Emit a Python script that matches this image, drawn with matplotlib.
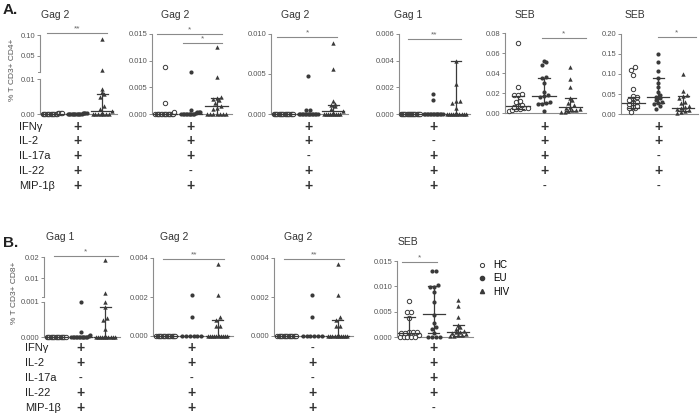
import numpy as np
import matplotlib.pyplot as plt
from matplotlib.lines import Line2D
from matplotlib.transforms import blended_transform_factory

plt.rcParams['font.family'] = ['Liberation Sans', 'DejaVu Sans']

W, H = 700, 417
DARK = '#3a3a3a'
AXC = '#8c8c8c'
TXT = '#555555'

# ---------------- data, panel A (% T CD3+ CD4+) ----------------
a1_hc = [0.0004, 0.0004, 0.0003, 0.0002, 0, 0, 0, 0, 0, 0, 0, 0, 0, 0, 0, 0]
a1_eu = [0.0004, 0.0003, 0.0003, 0.0002, 0.0001, 0, 0, 0, 0, 0, 0, 0, 0, 0, 0, 0]
a1_hiv = [0.09, 0.015, 0.0072, 0.0062, 0.0058, 0.005, 0.0022, 0.0015, 0.0008,
          0, 0, 0, 0, 0, 0, 0]
a1_stats = [(0, 0, 0), (0, 0, 0), (0.0008, 0, 0.0058)]

a2_hc = [0.0088, 0.0021, 0.0004, 0, 0, 0, 0, 0, 0, 0, 0, 0, 0, 0, 0, 0, 0]
a2_eu = [0.0079, 0.0007, 0.0004, 0.0004, 0.0003, 0.0002, 0, 0, 0, 0, 0, 0, 0, 0, 0, 0]
a2_hiv = [0.0125, 0.0069, 0.0031, 0.003, 0.0028, 0.0026, 0.002, 0.0015, 0.0012,
          0.001, 0, 0, 0, 0, 0, 0, 0]
a2_stats = [(0, 0, 0), (0, 0, 0), (0.0015, 0, 0.003)]

a3_hc = [0, 0, 0, 0, 0, 0, 0, 0, 0, 0, 0, 0, 0, 0, 0, 0, 0]
a3_eu = [0.0048, 0.0005, 0.0005, 0, 0, 0, 0, 0, 0, 0, 0, 0, 0, 0, 0, 0, 0]
a3_hiv = [0.0089, 0.0056, 0.0016, 0.0012, 0.0011, 0.001, 0.0006, 0.0004,
          0, 0, 0, 0, 0, 0, 0, 0, 0]
a3_stats = [(0, 0, 0), (0, 0, 0), (0.0004, 0, 0.0011)]

a4_hc = [0, 0, 0, 0, 0, 0, 0, 0, 0, 0, 0, 0, 0, 0, 0, 0, 0, 0]
a4_eu = [0.0015, 0.00105, 0, 0, 0, 0, 0, 0, 0, 0, 0, 0, 0, 0, 0, 0]
a4_hiv = [0.004, 0.00225, 0.001, 0.00095, 0.0008, 0.00045,
          0, 0, 0, 0, 0, 0, 0, 0, 0, 0]
a4_stats = [(0, 0, 0), (0, 0, 0), (0, 0, 0.004)]

a5_hc = [0.070, 0.026, 0.019, 0.018, 0.018, 0.012, 0.011, 0.008, 0.007, 0.006,
         0.005, 0.005, 0.004, 0.004, 0.003, 0.002]
a5_eu = [0.052, 0.051, 0.048, 0.036, 0.035, 0.030, 0.021, 0.018, 0.017, 0.016,
         0.011, 0.010, 0.009, 0.009, 0.002]
a5_hiv = [0.046, 0.034, 0.026, 0.015, 0.013, 0.010, 0.008, 0.006, 0.005, 0.004,
          0.003, 0.003, 0.002, 0.001, 0.001]
a5_stats = [(0.007, 0.004, 0.017), (0.017, 0.010, 0.035), (0.006, 0.002, 0.015)]

a6_hc = [0.117, 0.110, 0.098, 0.063, 0.045, 0.042, 0.040, 0.035, 0.030, 0.027,
         0.025, 0.020, 0.018, 0.015, 0.014, 0.006]
a6_eu = [0.150, 0.130, 0.108, 0.090, 0.078, 0.068, 0.056, 0.048, 0.043, 0.040,
         0.034, 0.030, 0.028, 0.025, 0.020, 0.012]
a6_hiv = [0.101, 0.058, 0.048, 0.046, 0.040, 0.030, 0.027, 0.020, 0.017, 0.015,
          0.012, 0.010, 0.008, 0.005, 0.002]
a6_stats = [(0.027, 0.015, 0.043), (0.043, 0.027, 0.090), (0.016, 0.008, 0.046)]

# ---------------- data, panel B (% T CD3+ CD8+) ----------------
b1_hc = [0, 0, 0, 0, 0, 0, 0, 0, 0, 0, 0, 0, 0, 0, 0, 0]
b1_eu = [0.001, 0.00014, 0.00005, 0.00004, 0, 0, 0, 0, 0, 0, 0, 0, 0, 0, 0, 0]
b1_hiv = [0.0186, 0.003, 0.001, 0.00085, 0.00055, 0.0005, 0.00022,
          0, 0, 0, 0, 0, 0, 0, 0, 0, 0]
b1_stats = [(0, 0, 0), (0, 0, 0), (0, 0, 0.00085)]

b2_hc = [0, 0, 0, 0, 0, 0, 0, 0, 0, 0, 0, 0, 0, 0, 0, 0]
b2_eu = [0.0021, 0.00098, 0, 0, 0, 0, 0, 0]
b2_hiv = [0.0037, 0.0021, 0.00098, 0.00082, 0.0005, 0.0005,
          0, 0, 0, 0, 0, 0, 0, 0, 0, 0]
b2_stats = [(0, 0, 0), (0, 0, 0), (0, 0, 0.00082)]

b3_hc = [0, 0, 0, 0, 0, 0, 0, 0, 0, 0, 0, 0, 0, 0, 0, 0]
b3_eu = [0.0021, 0.00098, 0, 0, 0, 0, 0, 0]
b3_hiv = [0.0037, 0.0021, 0.00098, 0.00082, 0.0005, 0.0005,
          0, 0, 0, 0, 0, 0, 0, 0, 0, 0]
b3_stats = [(0, 0, 0), (0, 0, 0), (0, 0, 0.00082)]

b4_hc = [0.0071, 0.0049, 0.0049, 0.0038, 0.001, 0.001, 0.001, 0.0008, 0.0008,
         0.0003, 0, 0, 0, 0, 0]
b4_eu = [0.013, 0.013, 0.0102, 0.0099, 0.0099, 0.0088, 0.0069, 0.0043, 0.0028,
         0.002, 0.0015, 0.0008, 0, 0, 0, 0]
b4_hiv = [0.0073, 0.0061, 0.0039, 0.0024, 0.002, 0.0016, 0.0012, 0.001, 0.001,
          0.0008, 0.0006, 0.0004, 0.0003, 0.0002, 0.0001]
b4_stats = [(0.0008, 0, 0.0039), (0.0045, 0.0008, 0.010), (0.001, 0.0002, 0.0024)]

row_names = ['IFNγ', 'IL-2', 'IL-17a', 'IL-22', 'MIP-1β']
groups = ['HC', 'EU', 'HIV']

fig = plt.figure(figsize=(7, 4.17), dpi=100)


def fx(px):
    return px / W


def fy(py):
    return 1 - py / H


def broken_scale(lo_top, lo_px, gap, hi_top, hi_px):
    def fwd(v):
        v = np.asarray(v, float)
        return np.where(v <= lo_top, v / lo_top * lo_px,
                        lo_px + gap + (v - lo_top) / (hi_top - lo_top) * hi_px)

    def inv(p):
        p = np.asarray(p, float)
        return np.where(p <= lo_px, p / lo_px * lo_top,
                        np.where(p < lo_px + gap, lo_top,
                                 lo_top + (p - lo_px - gap) / hi_px * (hi_top - lo_top)))
    return fwd, inv


def swarm(ax, vals, col, ppu):
    # spread points that sit at (nearly) the same height sideways
    y = np.sort(np.asarray(vals, float))
    yd = ax.transData.transform(np.column_stack([np.full(len(y), col), y]))[:, 1]
    xs = np.zeros(len(y))
    i = 0
    while i < len(y):
        j = i
        while j + 1 < len(y) and yd[j + 1] - yd[i] < 3.5:
            j += 1
        n = j - i + 1
        step = min(4.0, 19.0 / max(n - 1, 1))
        xs[i:j + 1] = (np.arange(n) - (n - 1) / 2) * step
        i = j + 1
    return col + xs / ppu, y


def panel(box, data, stats, yticks, ylabels, signs, title, title_x, title_y,
          brackets, rows_y, brk=None):
    l, t, r, b = box
    ax = fig.add_axes([fx(l), fy(b), (r - l) / W, (b - t) / H])
    ax.set_xlim(0.5, 3.6)
    ppu = (r - l) / 3.1
    if brk is not None:
        fwd, inv = broken_scale(*brk)
        ax.set_yscale('function', functions=(fwd, inv))
    ax.set_ylim(0, yticks[-1])
    ax.set_yticks(yticks)
    ax.set_yticklabels(ylabels)
    ax.yaxis.set_minor_locator(plt.NullLocator())
    ax.set_xticks([])
    ax.patch.set_alpha(0)
    for s in ['top', 'right']:
        ax.spines[s].set_visible(False)
    ax.spines['bottom'].set_color(AXC)
    ax.spines['bottom'].set_linewidth(0.8)
    ax.spines['left'].set_color(AXC)
    ax.spines['left'].set_linewidth(0.8)
    ax.tick_params(axis='y', length=2.5, width=0.7, color=AXC, labelsize=5.5,
                   labelcolor=TXT, pad=1)
    if brk is not None:
        lo_px, gap = brk[1], brk[2]
        tot = b - t
        ax.spines['left'].set_visible(False)
        ax.plot([0, 0], [0, lo_px / tot], transform=ax.transAxes, color=AXC,
                lw=0.8, clip_on=False)
        ax.plot([0, 0], [(lo_px + gap) / tot, 1], transform=ax.transAxes,
                color=AXC, lw=0.8, clip_on=False)
        ax.plot([-2.5 / (r - l), 0], [(lo_px + gap) / tot] * 2,
                transform=ax.transAxes, color=AXC, lw=0.7, clip_on=False)

    styles = [dict(marker='o', facecolors='white', edgecolors=DARK, s=10, linewidths=0.7),
              dict(marker='o', c=DARK, s=9, linewidths=0),
              dict(marker='^', c=DARK, s=10, linewidths=0)]
    for k, vals in enumerate(data):
        col = k + 1
        xs, ys = swarm(ax, vals, col, ppu)
        ax.scatter(xs, ys, zorder=3, clip_on=False, **styles[k])
        med, q1, q3 = stats[k]
        ax.plot([col - 0.45, col + 0.45], [med, med], color=DARK, lw=0.9,
                zorder=4, clip_on=False)
        if q3 > q1:
            ax.plot([col, col], [q1, q3], color=DARK, lw=0.9, zorder=4, clip_on=False)
            for q in (q1, q3):
                if q > 0:
                    ax.plot([col - 0.22, col + 0.22], [q, q], color=DARK, lw=0.9,
                            zorder=4, clip_on=False)

    tr = blended_transform_factory(ax.transData, fig.transFigure)
    for x0, x1, lab, py in brackets:
        ax.plot([x0, x1], [fy(py), fy(py)], transform=tr, color='#8a8a8a',
                lw=0.8, clip_on=False)
        ax.text((x0 + x1) / 2, fy(py - 1.0), lab, transform=tr, ha='center',
                va='bottom', fontsize=6, color='#666666')

    for sgn, py in zip(signs, rows_y):
        ax.text(2, fy(py), sgn, transform=tr, ha='center', va='center',
                fontsize=10 if sgn == '+' else 8, fontweight='bold',
                color='#333333')

    fig.text(fx(title_x), fy(title_y), title, ha='center', va='center',
             fontsize=7.5, color='#333333')
    return ax


rows_a = [127, 141, 156, 171, 186]
rows_b = [348, 363, 378, 393, 408]

panel((40, 35, 117, 114), [a1_hc, a1_eu, a1_hiv], a1_stats,
      [0, 0.01, 0.05, 0.10], ['0.00', '0.01', '0.05', '0.10'],
      '+++++', 'Gag 2', 55, 15, [(0.8, 3.2, '**', 33)], rows_a,
      brk=(0.01, 35, 7, 0.10, 37))
panel((152, 34, 232, 114), [a2_hc, a2_eu, a2_hiv], a2_stats,
      [0, 0.005, 0.010, 0.015], ['0.000', '0.005', '0.010', '0.015'],
      '+++-+', 'Gag 2', 175, 15,
      [(0.7, 3.2, '*', 34), (1.7, 3.2, '*', 43)], rows_a)
panel((271, 34, 348, 114), [a3_hc, a3_eu, a3_hiv], a3_stats,
      [0, 0.005, 0.010], ['0.000', '0.005', '0.010'],
      '++-++', 'Gag 2', 295, 15, [(0.75, 3.15, '*', 37)], rows_a)
panel((399, 34, 470, 114), [a4_hc, a4_eu, a4_hiv], a4_stats,
      [0, 0.002, 0.004, 0.006], ['0.000', '0.002', '0.004', '0.006'],
      '+-+++', 'Gag 1', 408, 15, [(0.9, 3.2, '**', 39)], rows_a)
panel((505, 33, 586, 113), [a5_hc, a5_eu, a5_hiv], a5_stats,
      [0, 0.02, 0.04, 0.06, 0.08], ['0.00', '0.02', '0.04', '0.06', '0.08'],
      '++++-', 'SEB', 525, 15, [(1.9, 3.6, '*', 38)], rows_a)
panel((621, 34, 698, 114), [a6_hc, a6_eu, a6_hiv], a6_stats,
      [0, 0.05, 0.10, 0.15, 0.20], ['0.00', '0.05', '0.10', '0.15', '0.20'],
      '++-+-', 'SEB', 635, 15, [(2.0, 3.5, '*', 37)], rows_a)

panel((44, 257, 120, 337), [b1_hc, b1_eu, b1_hiv], b1_stats,
      [0, 0.001, 0.01, 0.02], ['0.000', '0.001', '0.01', '0.02'],
      '++-++', 'Gag 1', 60, 237, [(0.9, 3.5, '*', 256)], rows_b,
      brk=(0.001, 35, 5, 0.02, 40))
panel((153, 258, 233, 336), [b2_hc, b2_eu, b2_hiv], b2_stats,
      [0, 0.002, 0.004], ['0.000', '0.002', '0.004'],
      '++-++', 'Gag 2', 174, 237, [(0.9, 3.25, '**', 259)], rows_b)
panel((274, 258, 353, 336), [b3_hc, b3_eu, b3_hiv], b3_stats,
      [0, 0.002, 0.004], ['0.000', '0.002', '0.004'],
      '-+-++', 'Gag 2', 298, 237, [(0.9, 3.25, '**', 259)], rows_b)
panel((397, 261, 473, 337), [b4_hc, b4_eu, b4_hiv], b4_stats,
      [0, 0.005, 0.010, 0.015], ['0.000', '0.005', '0.010', '0.015'],
      '++++-', 'SEB', 408, 242, [(0.7, 2.15, '*', 262)], rows_b)

# row labels
for name, py in zip(row_names, rows_a):
    fig.text(fx(19), fy(py), name, va='center', fontsize=8, color='#222222')
for name, py in zip(row_names, rows_b):
    fig.text(fx(25), fy(py), name, va='center', fontsize=8, color='#222222')

fig.text(fx(3), fy(10), 'A.', fontsize=11, fontweight='bold', va='center', color='#222222')
fig.text(fx(3), fy(243), 'B.', fontsize=11, fontweight='bold', va='center', color='#222222')
fig.text(fx(13), fy(70), '% T CD3+ CD4+', rotation=90, ha='center', va='center',
         fontsize=6, color=TXT)
fig.text(fx(15), fy(293), '% T CD3+ CD8+', rotation=90, ha='center', va='center',
         fontsize=6, color=TXT)

handles = [Line2D([], [], ls='', marker='o', mfc='white', mec=DARK, ms=3, mew=0.7),
           Line2D([], [], ls='', marker='o', mfc=DARK, mec=DARK, ms=3),
           Line2D([], [], ls='', marker='^', mfc=DARK, mec=DARK, ms=3)]
fig.legend(handles, groups, loc='upper left', bbox_to_anchor=(fx(479), fy(260)),
           frameon=False, fontsize=7, handlelength=0.6, handletextpad=0.9,
           labelspacing=0.35, borderpad=0, borderaxespad=0)

fig.savefig('out.png', dpi=100)
